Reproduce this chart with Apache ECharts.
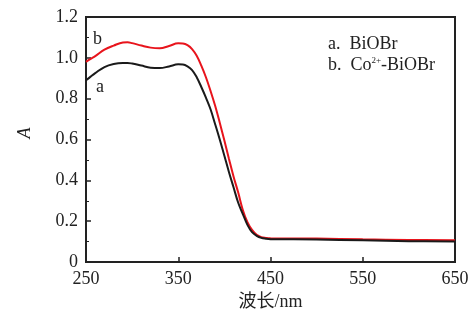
<!DOCTYPE html>
<html>
<head>
<meta charset="utf-8">
<script src="https://cdn.jsdelivr.net/npm/echarts@6/dist/echarts.min.js"></script>
<style>
  html, body { margin: 0; padding: 0; background: #fff; }
  #chart { width: 476px; height: 320px; }
</style>
</head>
<body>
<div id="chart"></div>
<script>
// 波长 (nm)
const wavelengths = [250, 255, 260, 270, 280, 290, 295, 300, 310, 320, 330, 340, 350, 355, 360, 365, 370, 375, 380, 385, 390, 395, 400, 405, 410, 415, 420, 425, 430, 435, 440, 445, 450, 500, 550, 600, 650];
// a. BiOBr
const absA = [0.89, 0.908, 0.925, 0.955, 0.97, 0.975, 0.975, 0.972, 0.962, 0.952, 0.95, 0.958, 0.968, 0.967, 0.958, 0.94, 0.905, 0.857, 0.805, 0.748, 0.675, 0.60, 0.52, 0.44, 0.365, 0.29, 0.235, 0.182, 0.146, 0.128, 0.118, 0.114, 0.112, 0.11, 0.106, 0.102, 0.101];
// b. Co2+-BiOBr
const absB = [0.98, 0.995, 1.008, 1.04, 1.06, 1.075, 1.076, 1.072, 1.06, 1.05, 1.047, 1.058, 1.071, 1.07, 1.062, 1.043, 1.01, 0.962, 0.905, 0.838, 0.765, 0.682, 0.595, 0.505, 0.418, 0.34, 0.255, 0.195, 0.157, 0.133, 0.122, 0.118, 0.116, 0.115, 0.111, 0.108, 0.106];

const xLabels = [250, 350, 450, 550, 650];
const xTicks = [350, 450, 550];

const serif = '"Liberation Serif", "Times New Roman", "Noto Sans CJK SC", serif';

const chart = echarts.init(document.getElementById('chart'));

const toPairs = (ys) => wavelengths.map((x, i) => [x, ys[i]]);

const option = {
  animation: false,
  backgroundColor: '#fff',
  grid: {
    left: 86, right: 21, top: 17, bottom: 58,
    show: true,
    borderColor: '#222',
    borderWidth: 2,
  },
  xAxis: {
    type: 'value',
    min: 250,
    max: 650,
    name: '波长/nm',
    nameLocation: 'middle',
    nameGap: 30,
    nameTextStyle: { fontFamily: serif, fontSize: 18, color: '#222' },
    axisLine: { show: true, lineStyle: { color: '#222', width: 2 } },
    axisTick: { show: true, inside: true, length: 5, customValues: xTicks, lineStyle: { color: '#222', width: 1.5 } },
    axisLabel: { customValues: xLabels, fontFamily: serif, fontSize: 18, color: '#222', margin: 8 },
    splitLine: { show: false },
  },
  yAxis: {
    type: 'value',
    min: 0,
    max: 1.2,
    interval: 0.2,
    axisLine: { show: true, lineStyle: { color: '#222', width: 2 } },
    axisTick: { show: true, inside: true, length: 5, lineStyle: { color: '#222', width: 1.5 } },
    minorTick: { show: true, splitNumber: 2, length: 3, lineStyle: { color: '#222', width: 1 } },
    axisLabel: {
      fontFamily: serif, fontSize: 18, color: '#222', margin: 8,
      formatter: (v) => (v === 0 ? '0' : v.toFixed(1)),
    },
    splitLine: { show: false },
  },
  graphic: [
    // y轴名称 A（斜体，竖排）
    {
      type: 'text', x: 25, y: 133, rotation: Math.PI / 2,
      style: { text: 'A', font: 'italic 18px ' + serif, fill: '#222', align: 'center', verticalAlign: 'middle' },
    },
    { type: 'text', left: 93, top: 30, style: { text: 'b', font: '18px ' + serif, fill: '#222' } },
    { type: 'text', left: 96, top: 78, style: { text: 'a', font: '18px ' + serif, fill: '#222' } },
    { type: 'text', left: 328, top: 35, style: { text: 'a.  BiOBr', font: '18px ' + serif, fill: '#222' } },
    {
      type: 'text', left: 328, top: 56,
      style: {
        text: 'b.  Co{sup|2+}-BiOBr',
        font: '18px ' + serif,
        fill: '#222',
        rich: { sup: { fontSize: 9, fontFamily: serif, verticalAlign: 'top', padding: [0, 0, 8, 0] } },
      },
    },
  ],
  series: [
    {
      name: 'a',
      type: 'line',
      data: toPairs(absA),
      smooth: 0.4,
      showSymbol: false,
      lineStyle: { color: '#1a1a1a', width: 2 },
      z: 3,
    },
    {
      name: 'b',
      type: 'line',
      data: toPairs(absB),
      smooth: 0.4,
      showSymbol: false,
      lineStyle: { color: '#e8141c', width: 2 },
      z: 2,
    },
  ],
};

chart.setOption(option);
</script>
</body>
</html>
